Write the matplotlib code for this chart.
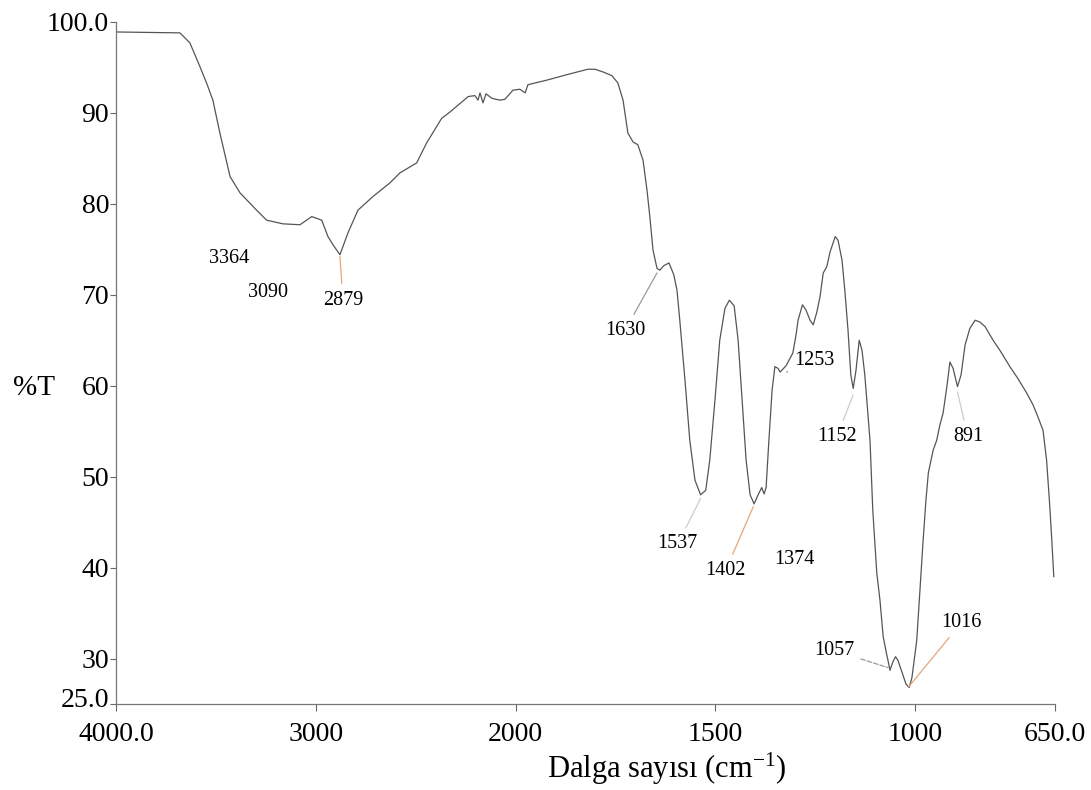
import numpy as np
import matplotlib
matplotlib.use('Agg')
import matplotlib.pyplot as plt
from matplotlib.transforms import ScaledTranslation

plt.rcParams['font.family'] = ['Liberation Serif', 'DejaVu Serif']
plt.rcParams['mathtext.default'] = 'regular'

# spectrum: wavenumber (cm-1) and %T
wavenumber = [4000, 3830, 3680, 3630, 3580, 3545, 3515, 3480, 3450, 3429, 3379, 3296,
              3246, 3164, 3079, 3020, 2970, 2939, 2914, 2879, 2839, 2789,
              2714, 2629, 2579, 2495, 2445, 2370, 2328, 2237, 2203, 2188,
              2178, 2163, 2148, 2118, 2078, 2053, 2013,
              1989, 1976, 1969, 1922, 1872, 1819, 1801, 1781, 1759, 1744,
              1731, 1719, 1706, 1694, 1681, 1671, 1664, 1656, 1646, 1639,
              1629, 1616, 1604, 1596, 1589, 1576, 1564, 1551, 1537, 1524,
              1514, 1501, 1489, 1476, 1465, 1453, 1443, 1433, 1423, 1413,
              1403, 1393, 1384, 1378, 1373, 1366, 1358, 1351, 1343, 1338,
              1323, 1306, 1298, 1293, 1282, 1273, 1263, 1255, 1246, 1238,
              1230, 1221, 1213, 1200, 1193, 1183, 1176, 1168, 1161, 1155,
              1148, 1140, 1133, 1126, 1113, 1106, 1096, 1088, 1080, 1071,
              1068, 1063, 1056, 1049, 1043, 1033, 1023, 1015, 1008, 996,
              988, 980, 973, 967, 955, 946, 938, 930, 920, 913,
              905, 894, 885, 875, 863, 850, 838, 825, 805, 788,
              763, 743, 721, 705, 693, 680, 671, 663, 658, 653]
transmittance = [98.9, 98.85, 98.8, 97.7, 95.1, 93.2, 91.4, 87.8, 85.0, 83.0, 81.2, 79.3,
                 78.2, 77.8, 77.7, 78.6, 78.2, 76.4, 75.5, 74.4, 76.8, 79.3,
                 80.8, 82.3, 83.4, 84.5, 86.7, 89.4, 90.1, 91.8, 91.9, 91.4,
                 92.2, 91.1, 92.1, 91.6, 91.4, 91.5, 92.5,
                 92.6, 92.2, 93.1, 93.6, 94.2, 94.8, 94.8, 94.5, 94.1, 93.3,
                 91.4, 87.8, 86.8, 86.5, 84.8, 81.5, 78.6, 74.9, 72.9, 72.7,
                 73.2, 73.5, 72.2, 70.5, 67.2, 60.6, 54.0, 49.6, 48.0, 48.5,
                 51.8, 58.4, 65.0, 68.5, 69.4, 68.8, 65.0, 58.4, 51.8, 48.0,
                 47.0, 48.0, 48.8, 48.1, 48.8, 54.0, 59.5, 62.1, 61.9, 61.5,
                 62.2, 63.6, 65.6, 67.2, 68.9, 68.3, 67.2, 66.7, 68.1, 69.8,
                 72.4, 73.1, 74.7, 76.4, 76.0, 73.8, 70.5, 66.1, 61.2, 59.7,
                 61.7, 65.0, 63.9, 61.2, 54.0, 46.3, 39.4, 36.4, 32.4, 30.4,
                 29.8, 28.7, 29.6, 30.2, 29.8, 28.5, 27.2, 26.8, 27.9, 32.0,
                 37.5, 43.0, 47.4, 50.4, 52.9, 54.0, 55.7, 57.0, 60.1, 62.6,
                 61.9, 59.9, 61.2, 64.5, 66.3, 67.2, 67.0, 66.5, 65.0, 63.9,
                 62.1, 60.8, 59.2, 57.9, 56.6, 55.1, 51.8, 46.7, 43.0, 39.0]

# peak labels, where the text sits, and where its leader line points (None = no line)
peak_labels = ['3364', '3090', '2879', '1630', '1537', '1402', '1374',
               '1253', '1152', '891', '1057', '1016']
label_x = [3434, 3239, 2864, 1726, 1594, 1474, 1301, 1253, 1196, 868, 1203, 883]
label_y = [74.0, 70.2, 69.4, 66.1, 42.6, 39.7, 40.9, 62.8, 54.4, 54.4, 30.9, 34.0]
leader_x = [None, None, 2879, 1646, 1537, 1405, None, 1321, 1155, 894, 1068, 1016]
leader_y = [None, None, 74.2, 72.4, 47.6, 46.7, None, 61.5, 59.0, 59.3, 29.0, 26.9]
leader_color = ['', '', '#e6a57a', '#999999', '#cccccc', '#e6a57a', '',
                '#666666', '#cccccc', '#cccccc', '#999999', '#e6a57a']
leader_style = ['-', '-', '-', '-', '-', '-', '-', '-', '-', '-', '--', '-']

xticks = [4000, 3000, 2000, 1500, 1000, 650]
xtick_labels = ['4000.0', '3000', '2000', '1500', '1000', '650.0']
yticks = [100, 90, 80, 70, 60, 50, 40, 30, 25]
ytick_labels = ['100.0', '90', '80', '70', '60', '50', '40', '30', '25.0']


def fwd(x):
    x = np.asarray(x, dtype=float)
    return np.where(x >= 2000, x, 2 * x - 2000)


def inv(u):
    u = np.asarray(u, dtype=float)
    return np.where(u >= 2000, u, (u + 2000) / 2)


fig = plt.figure(figsize=(10.91, 7.90), dpi=100)
ax = fig.add_axes([0.1063, 0.1089, 0.8607, 0.8633])

ax.set_xscale('function', functions=(fwd, inv))
ax.plot(wavenumber, transmittance, color='#555555', lw=0.9)

for i, lab in enumerate(peak_labels):
    if leader_x[i] is None:
        ax.text(label_x[i], label_y[i], lab, fontsize=14.5, ha='center', va='center')
    else:
        ax.annotate(lab, xy=(leader_x[i], leader_y[i]), xytext=(label_x[i], label_y[i]),
                    fontsize=14.5, ha='center', va='center',
                    arrowprops=dict(arrowstyle='-', color=leader_color[i], lw=0.9,
                                    linestyle=leader_style[i], shrinkA=3, shrinkB=0))

ax.set_xlim(4000, 650)
ax.set_ylim(25, 100)
ax.set_xticks(xticks)
ax.set_xticklabels(xtick_labels)
ax.set_yticks(yticks)
ax.set_yticklabels(ytick_labels)
ax.minorticks_off()
ax.tick_params(axis='both', labelsize=20, color='#666666', width=0.8)
ax.tick_params(axis='y', length=4, pad=1)
ax.tick_params(axis='x', length=5, pad=8)

# bottom y label sits a little above its tick in the original
lbl = ax.get_yticklabels()[-1]
lbl.set_transform(lbl.get_transform() + ScaledTranslation(0, 5 / 72, fig.dpi_scale_trans))

for side in ['top', 'right']:
    ax.spines[side].set_visible(False)
for side in ['left', 'bottom']:
    ax.spines[side].set_color('#777777')
    ax.spines[side].set_linewidth(0.9)

ax.set_ylabel('%T', fontsize=21, rotation=0, va='center', ha='center')
ax.yaxis.set_label_coords(-0.087, 0.463)
ax.set_xlabel('Dalga sayısı (cm$^{-1}$)', fontsize=22, va='center')
ax.xaxis.set_label_coords(0.586, -0.095)

fig.savefig('out.png', dpi=100)
